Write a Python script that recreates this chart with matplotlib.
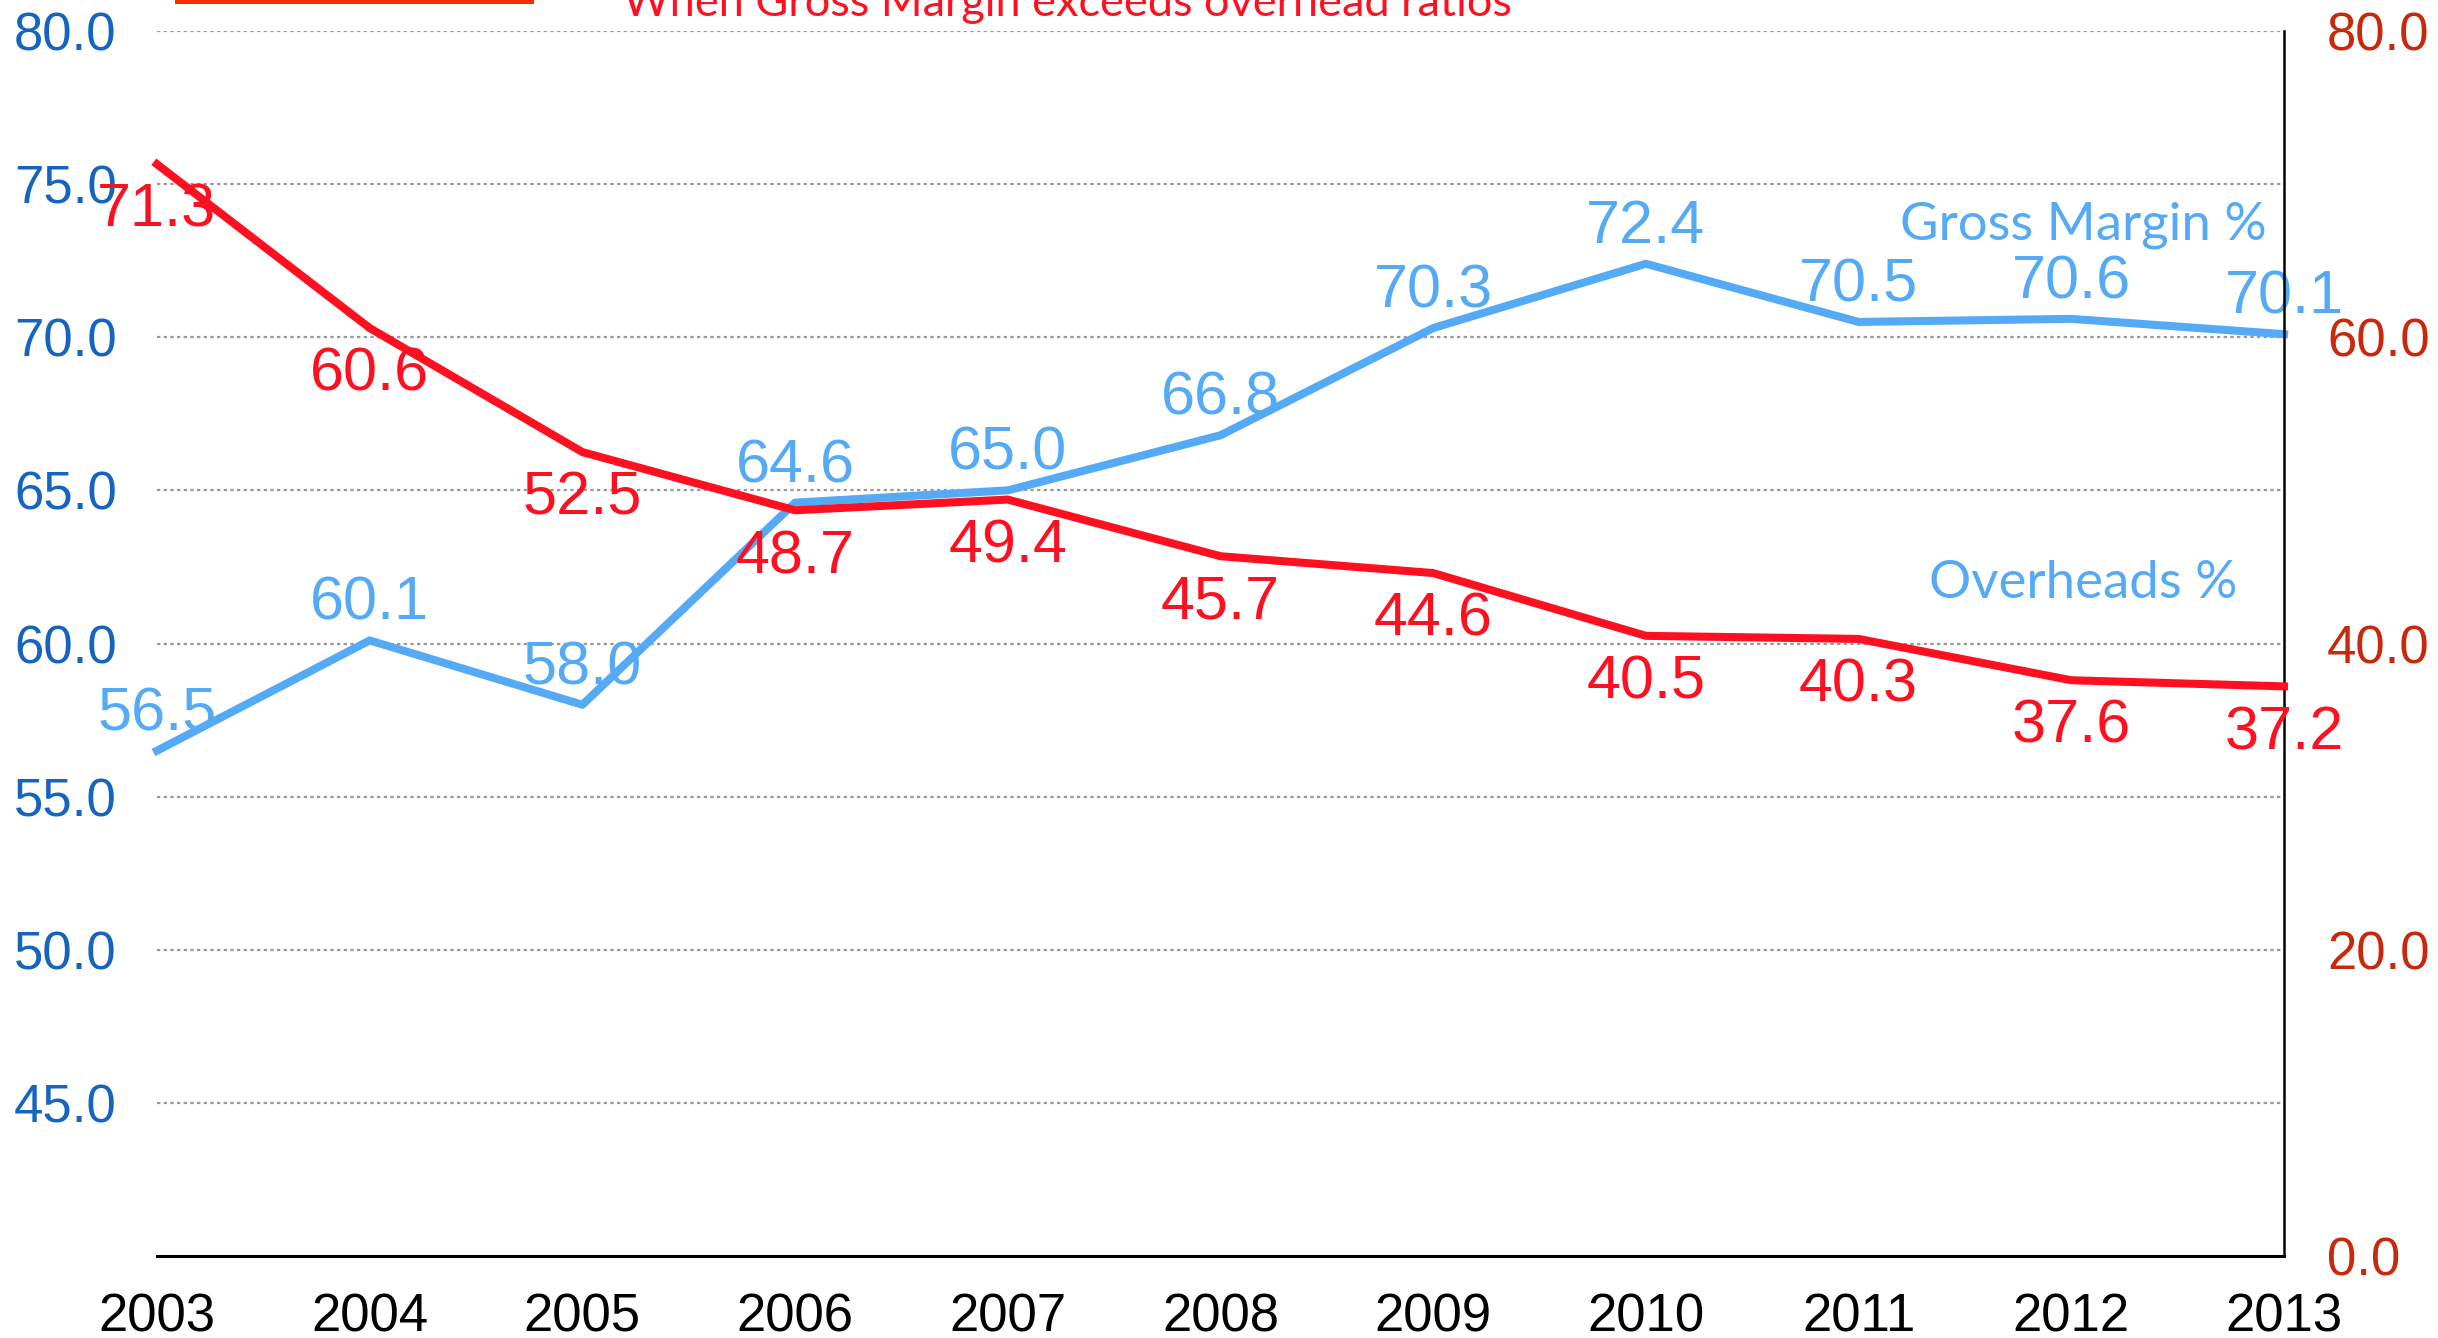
import matplotlib
matplotlib.use("Agg")
import matplotlib.pyplot as plt
from matplotlib.patches import Rectangle

years = [2003, 2004, 2005, 2006, 2007, 2008, 2009, 2010, 2011, 2012, 2013]
gross_margin = [56.5, 60.1, 58.0, 64.6, 65.0, 66.8, 70.3, 72.4, 70.5, 70.6, 70.1]
overheads = [71.3, 60.6, 52.5, 48.7, 49.4, 45.7, 44.6, 40.5, 40.3, 37.6, 37.2]
left_ticks = [45, 50, 55, 60, 65, 70, 75, 80]
right_ticks = [0, 20, 40, 60, 80]
title = "When Gross Margin exceeds overhead ratios"

BLUE_LINE = "#55AAF6"
RED_LINE = "#FF1020"
LEFT_TICK = "#1565C0"
RIGHT_TICK = "#C8280C"
NUM_FONT = ["Liberation Sans", "DejaVu Sans"]
LABEL_FONT = ["Lato", "DejaVu Sans"]

fig = plt.figure(figsize=(24.38, 13.38), dpi=100)
ax = fig.add_axes([157 / 2438, 1 - 1256 / 1338, (2284 - 157) / 2438, (1256 - 31) / 1338])
ax2 = ax.twinx()

ax.set_xlim(years[0], years[-1])
ax.set_ylim(40, 80)
ax2.set_ylim(0, 80)

ax.set_yticks(left_ticks)
ax.set_yticklabels([f"{v:.1f}" for v in left_ticks], fontsize=38, color=LEFT_TICK, family=NUM_FONT)
ax2.set_yticks(right_ticks)
ax2.set_yticklabels([f"{v:.1f}" for v in right_ticks], fontsize=38, color=RIGHT_TICK, family=NUM_FONT)
ax.set_xticks(years)
ax.set_xticklabels([str(y) for y in years], fontsize=38, color="black", family=NUM_FONT)

ax.tick_params(axis="y", length=0, pad=29)
ax2.tick_params(axis="y", length=0, pad=31)
ax.tick_params(axis="x", length=0, pad=26)

for a in (ax, ax2):
    a.spines["top"].set_visible(False)
    a.spines["left"].set_visible(False)
    a.spines["right"].set_visible(False)
    a.spines["bottom"].set_visible(False)
ax2.spines["right"].set_visible(True)
ax2.spines["right"].set_linewidth(1.8)
ax2.spines["right"].set_color("black")
ax.spines["bottom"].set_visible(True)
ax.spines["bottom"].set_linewidth(2.2)
ax.spines["bottom"].set_color("black")

ax.yaxis.grid(True, linestyle=(0, (1.5, 1.5)), color="#999999", linewidth=1.6)
ax.set_axisbelow(True)

ax.plot(years, gross_margin, color=BLUE_LINE, linewidth=5.8, clip_on=False, zorder=3)
ax2.plot(years, overheads, color=RED_LINE, linewidth=5.8, clip_on=False, zorder=3)

for x, v in zip(years, gross_margin):
    ax.annotate(f"{v:.1f}", (x, v), xytext=(0, 26), textcoords="offset points",
                ha="center", va="center", fontsize=44, color=BLUE_LINE,
                family=NUM_FONT, annotation_clip=False, zorder=5)
for x, v in zip(years, overheads):
    ax2.annotate(f"{v:.1f}", (x, v), xytext=(0, -34), textcoords="offset points",
                 ha="center", va="center", fontsize=44, color=RED_LINE,
                 family=NUM_FONT, annotation_clip=False, zorder=5)

fig.text(2083 / 2438, 1 - 225 / 1338, "Gross Margin %", ha="center", va="center",
         fontsize=38, color=BLUE_LINE, family=LABEL_FONT)
fig.text(2083 / 2438, 1 - 584 / 1338, "Overheads %", ha="center", va="center",
         fontsize=38, color=BLUE_LINE, family=LABEL_FONT)

fig.text(1067 / 2438, 1 - 16 / 1338, title, ha="center", va="baseline",
         fontsize=32.5, color=RED_LINE, family=LABEL_FONT)
fig.patches.append(Rectangle((175 / 2438, 1 - 4 / 1338), (534 - 175) / 2438, 10 / 1338,
                             transform=fig.transFigure, facecolor="#FF2A00",
                             edgecolor="none"))

fig.savefig("out.png", dpi=100)
